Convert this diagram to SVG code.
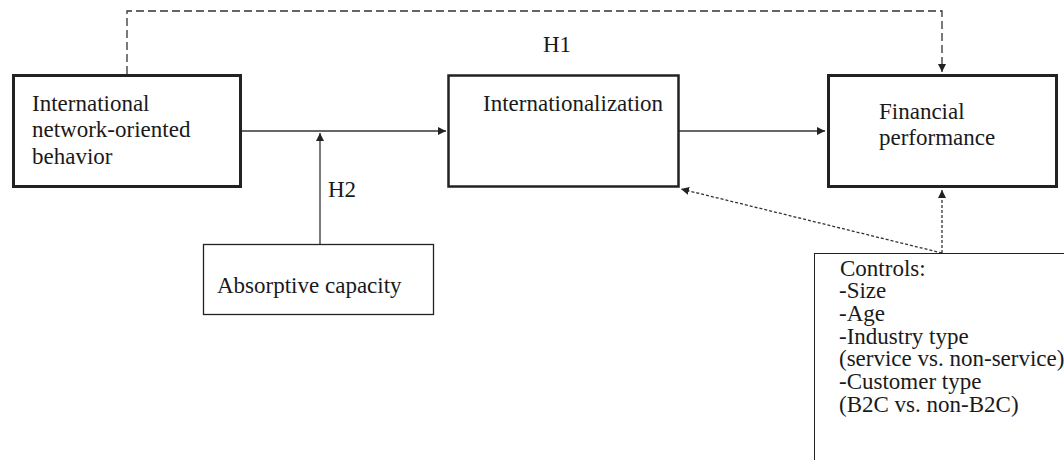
<svg xmlns="http://www.w3.org/2000/svg" width="1064" height="460" viewBox="0 0 1064 460">
<style>
.box{fill:#fff;stroke:#222}
.c{fill:none;stroke:#333;stroke-width:1.3}
</style>
<defs>
<marker id="ah" viewBox="0 0 10 10" refX="10" refY="5" markerWidth="8" markerHeight="8" markerUnits="userSpaceOnUse" orient="auto"><path d="M0,0 L10,5 L0,10 z" fill="#222"/></marker>
</defs>
<rect width="1064" height="460" fill="#fff"/>
<g id="connectors">
<path class="c" d="M127,74 V11 H942 V72" stroke-dasharray="8,4" marker-end="url(#ah)"/>
<path class="c" d="M242,131 H446" marker-end="url(#ah)"/>
<path class="c" d="M320,244 V133" marker-end="url(#ah)"/>
<path class="c" d="M679,131 H825" marker-end="url(#ah)"/>
<path class="c" d="M942,253 V190" stroke-dasharray="3,2" marker-end="url(#ah)"/>
<path class="c" d="M942,253 L681,189" stroke-dasharray="3,2" marker-end="url(#ah)"/>
</g>
<g font-family="'Liberation Serif', 'Times New Roman', serif" font-size="23" fill="#1a1a1a">
<g id="n1">
<rect class="box" x="13.5" y="75.5" width="227" height="111" stroke-width="3"/>
<text x="32" y="110.5">International</text>
<text x="32" y="137">network-oriented</text>
<text x="32" y="163.5">behavior</text>
</g>
<g id="n2">
<rect class="box" x="448.5" y="75.5" width="230" height="111" stroke-width="2.5"/>
<text x="483" y="111">Internationalization</text>
</g>
<g id="n3">
<rect class="box" x="828.5" y="75.5" width="228" height="111" stroke-width="3"/>
<text x="879" y="119">Financial</text>
<text x="879" y="145">performance</text>
</g>
<g id="n4">
<rect class="box" x="203.5" y="244.5" width="230" height="70" stroke-width="1.3"/>
<text x="217" y="293">Absorptive capacity</text>
</g>
<g id="h-labels">
<text x="543" y="52">H1</text>
<text x="328" y="197">H2</text>
</g>
<g id="n5">
<rect class="box" x="814.5" y="253.5" width="260" height="220" stroke-width="1"/>
<text x="840" y="275.5">Controls:</text>
<text x="839" y="298.2">-Size</text>
<text x="839" y="320.9">-Age</text>
<text x="839" y="343.6">-Industry type</text>
<text x="839" y="366.3">(service vs. non-service)</text>
<text x="839" y="389">-Customer type</text>
<text x="839" y="411.7">(B2C vs. non-B2C)</text>
</g>
</g>
</svg>
